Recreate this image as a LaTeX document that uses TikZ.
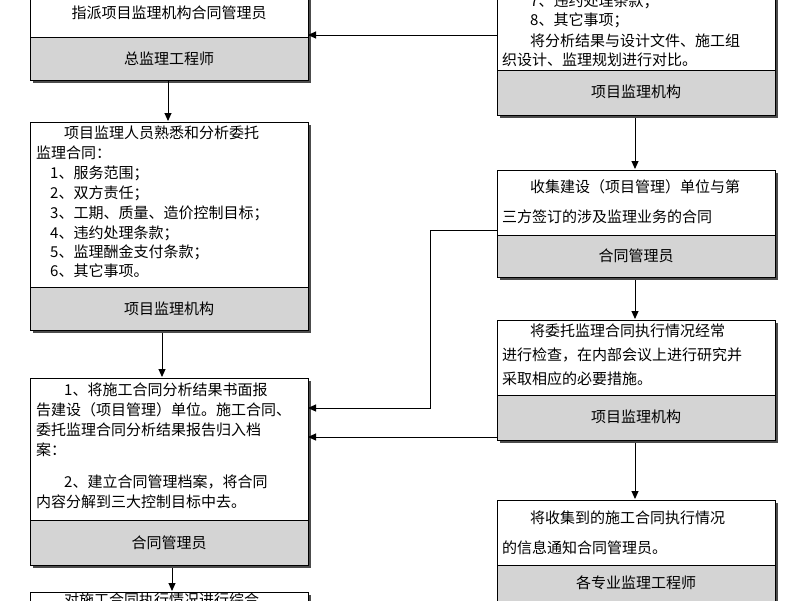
\documentclass[tikz,border=0pt]{standalone}
\usepackage{fontspec}
\setmainfont{Noto Sans CJK SC}
\usetikzlibrary{arrows.meta}
\begin{document}
\begin{tikzpicture}[x=1pt,y=-1pt,
  t/.style={anchor=west,inner sep=0pt,font=\fontsize{15}{15}\selectfont},
  c/.style={inner sep=0pt,font=\fontsize{15}{15}\selectfont},
  arr/.style={-{Triangle[length=8pt,width=7pt]},line width=1pt},
  ln/.style={line width=0.8pt}]
\useasboundingbox (0,0) rectangle (800,600);
\clip (0,0) rectangle (800,600);
\fill[white] (0,0) rectangle (800,600);
\def\bx#1#2#3#4#5{%
  \fill[black!70] (#1+3,#2+3) rectangle (#3+3,#4+3);
  \fill[white] (#1,#2) rectangle (#3,#5);
  \fill[black!17] (#1,#5) rectangle (#3,#4);
  \draw[line width=1pt] (#1,#2) rectangle (#3,#4);
  \draw[line width=1pt] (#1,#5) -- (#3,#5);}
\bx{30}{-20}{308}{80}{37}
\bx{30}{122}{308}{330}{287}
\bx{30}{378}{308}{565}{520}
\bx{30}{592}{308}{640}{630}
\bx{497}{-20}{775}{115}{70}
\bx{497}{170}{775}{277}{235}
\bx{497}{320}{775}{440}{395}
\bx{497}{500}{775}{640}{565}
\node[c] (a1) at (169,13) {指派项目监理机构合同管理员};
\node[c] (a) at (169,59) {总监理工程师};
\node[t] (b1) at (64,133) {项目监理人员熟悉和分析委托};
\node[t] (b2) at (36,153) {监理合同：};
\node[t] (b3) at (50,173) {1、服务范围；};
\node[t] (b4) at (50,193) {2、双方责任；};
\node[t] (b5) at (50,213) {3、工期、质量、造价控制目标；};
\node[t] (b6) at (50,233) {4、违约处理条款；};
\node[t] (b7) at (50,252) {5、监理酬金支付条款；};
\node[t] (b8) at (50,271) {6、其它事项。};
\node[c] (b) at (169,309) {项目监理机构};
\node[t] (c1) at (64,390) {1、将施工合同分析结果书面报};
\node[t] (c2) at (36,410) {告建设（项目管理）单位。施工合同、};
\node[t] (c3) at (36,430) {委托监理合同分析结果报告归入档};
\node[t] (c4) at (36,450) {案：};
\node[t] (c5) at (64,482) {2、建立合同管理档案，将合同};
\node[t] (c6) at (36,502) {内容分解到三大控制目标中去。};
\node[c] (c) at (169,543) {合同管理员};
\node[t] (d1) at (64,600) {对施工合同执行情况进行综合};
\node[t] (r1) at (530,1) {7、违约处理条款；};
\node[t] (r2) at (530,20) {8、其它事项；};
\node[t] (r3) at (530,41) {将分析结果与设计文件、施工组};
\node[t] (r4) at (502,60) {织设计、监理规划进行对比。};
\node[c] (r) at (636,92) {项目监理机构};
\node[t] (s1) at (530,187) {收集建设（项目管理）单位与第};
\node[t] (s2) at (502,217) {三方签订的涉及监理业务的合同};
\node[c] (s) at (636,256) {合同管理员};
\node[t] (u1) at (530,331) {将委托监理合同执行情况经常};
\node[t] (u2) at (502,355) {进行检查，在内部会议上进行研究并};
\node[t] (u3) at (502,379) {采取相应的必要措施。};
\node[c] (u) at (636,417) {项目监理机构};
\node[t] (v1) at (530,518) {将收集到的施工合同执行情况};
\node[t] (v2) at (502,548) {的信息通知合同管理员。};
\node[c] (v) at (636,583) {各专业监理工程师};
\coordinate (pa) at (168,80); \coordinate (pb) at (168,121);
\draw[arr] (pa) -- (pb);
\coordinate (pc) at (162,333); \coordinate (pd) at (162,377);
\draw[arr] (pc) -- (pd);
\coordinate (pe) at (172,568); \coordinate (pf) at (172,591);
\draw[arr] (pe) -- (pf);
\coordinate (q1) at (497,35); \coordinate (q2) at (308,35);
\draw[arr] (q1) -- (q2);
\coordinate (q3) at (635,118); \coordinate (q4) at (635,169);
\draw[arr] (q3) -- (q4);
\coordinate (q5) at (497,230); \coordinate (q6) at (308,408);
\draw[arr] (q5) -- (430,230) -- (430,408) -- (q6);
\coordinate (q7) at (635,280); \coordinate (q8) at (635,319);
\draw[arr] (q7) -- (q8);
\coordinate (q9) at (497,437); \coordinate (q10) at (308,437);
\draw[arr] (q9) -- (q10);
\coordinate (q11) at (635,443); \coordinate (q12) at (635,499);
\draw[arr] (q11) -- (q12);
\end{tikzpicture}
\end{document}
